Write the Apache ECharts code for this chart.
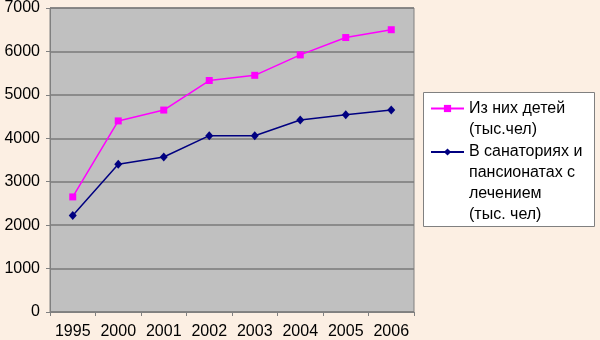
<!DOCTYPE html>
<html>
<head>
<meta charset="utf-8">
<script src="https://cdn.jsdelivr.net/npm/echarts@6/dist/echarts.min.js"></script>
<style>
  html, body { margin: 0; padding: 0; background: #FCEFE3; }
  #chart { width: 600px; height: 340px; }
</style>
</head>
<body>
<div id="chart"></div>
<script>
// Years on the horizontal axis
var years = ['1995', '2000', '2001', '2002', '2003', '2004', '2005', '2006'];
// Children among the guests, thousand people
var children = [2650, 4400, 4650, 5330, 5450, 5920, 6320, 6500];
// Guests of sanatoriums and boarding houses with treatment, thousand people
var sanatoriums = [2220, 3400, 3570, 4060, 4060, 4420, 4540, 4650];
// Series names as shown in the legend
var nameChildren = 'Из них детей\n(тыс.чел)';
var nameSanatoriums = 'В санаториях и\nпансионатах с\nлечением\n(тыс. чел)';

var FONT = 'Arial, "Liberation Sans", sans-serif';
var LINE_H = 21;

// One legend per series; blank lines are put in front of the name so that
// the legend key lines up with the first line of a multi-line label.
function legendFor(name, top) {
  var lines = name.split('\n').length;
  var pad = new Array(lines).join('\n');
  return {
    data: [name],
    left: 430,
    top: top,
    orient: 'vertical',
    padding: 0,
    itemWidth: 33,
    itemHeight: 9,
    itemGap: 0,
    selectedMode: false,
    formatter: function (n) { return pad + n; },
    textStyle: {
      fontFamily: FONT,
      fontSize: 16,
      color: '#000',
      lineHeight: LINE_H
    }
  };
}

var chart = echarts.init(document.getElementById('chart'), null, { renderer: 'canvas' });
chart.setOption({
  backgroundColor: '#FCEFE3',
  animation: false,
  grid: {
    left: 50, top: 6, right: 186, bottom: 28,
    show: true,
    backgroundColor: '#C0C0C0',
    borderColor: '#808080',
    borderWidth: 1
  },
  graphic: [{
    type: 'rect',
    shape: { x: 423.5, y: 92.5, width: 171, height: 134 },
    style: { fill: '#FFFFFF', stroke: '#808080', lineWidth: 1 },
    z: -1
  }],
  legend: [
    legendFor(nameChildren, 77),
    legendFor(nameSanatoriums, 78.5)
  ],
  xAxis: {
    type: 'category',
    data: years,
    boundaryGap: true,
    axisLine: { lineStyle: { color: '#808080', width: 1 } },
    axisTick: { show: true, length: 4, inside: false, lineStyle: { color: '#808080' } },
    axisLabel: { fontFamily: FONT, fontSize: 16, color: '#000', margin: 12, interval: 0 },
    splitLine: { show: false }
  },
  yAxis: {
    type: 'value',
    min: 0, max: 7000, interval: 1000,
    axisLine: { show: true, lineStyle: { color: '#808080', width: 1 } },
    axisTick: { show: true, length: 4, lineStyle: { color: '#808080' } },
    axisLabel: {
      fontFamily: FONT, fontSize: 16, color: '#000', margin: 10,
      formatter: function (v) { return String(v); }
    },
    splitLine: { show: true, lineStyle: { color: '#7A7A7A', width: 1.5 } }
  },
  series: [
    {
      name: nameChildren,
      type: 'line',
      data: children,
      symbol: 'rect',
      symbolSize: 7,
      color: '#FF00FF',
      lineStyle: { color: '#FF00FF', width: 1.5 },
      itemStyle: { color: '#FF00FF' }
    },
    {
      name: nameSanatoriums,
      type: 'line',
      data: sanatoriums,
      symbol: 'diamond',
      symbolSize: [8, 9],
      color: '#000080',
      lineStyle: { color: '#000080', width: 1.5 },
      itemStyle: { color: '#000080' }
    }
  ]
});
</script>
</body>
</html>
